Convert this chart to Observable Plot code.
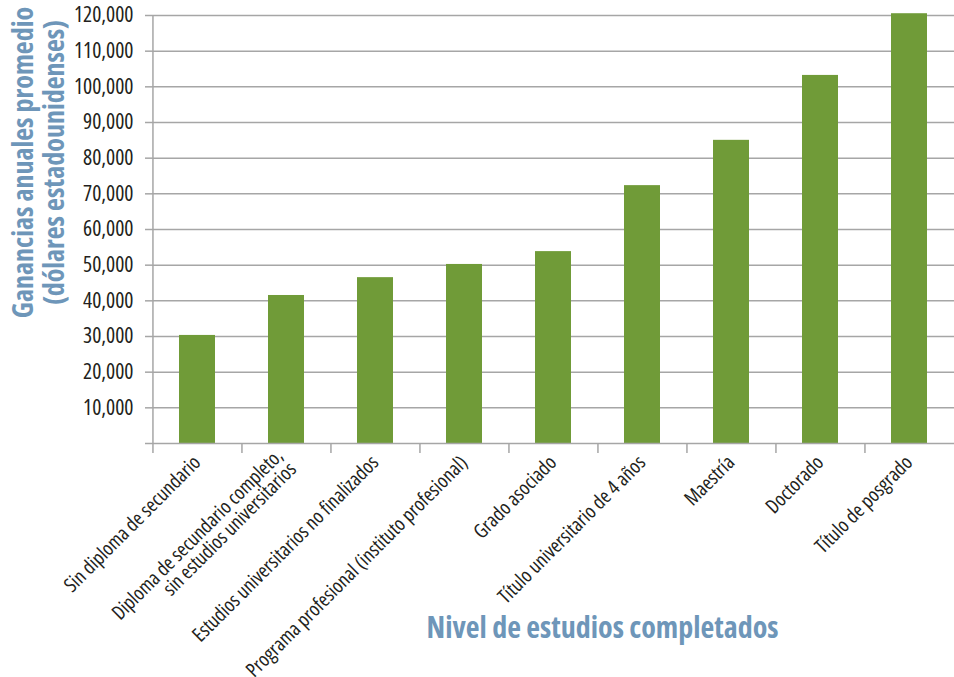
<!DOCTYPE html>
<html>
<head>
<meta charset="utf-8">
<script src="https://cdn.jsdelivr.net/npm/d3@7"></script>
<script src="https://cdn.jsdelivr.net/npm/@observablehq/plot@0.6"></script>
<style>
  html, body { margin: 0; padding: 0; background: #fff; }
  #chart { width: 954px; height: 677px; overflow: hidden; }
  #chart svg text { font-stretch: 75%; }
</style>
</head>
<body>
<div id="chart"></div>
<script>
// ---- data ----
const categories = [
  "Sin diploma de secundario",
  "Diploma de secundario completo,\nsin estudios universitarios",
  "Estudios universitarios no finalizados",
  "Programa profesional (instituto profesional)",
  "Grado asociado",
  "Título universitario de 4 años",
  "Maestría",
  "Doctorado",
  "Título de posgrado"
];
const earnings = [30300, 41500, 46500, 50200, 53800, 72300, 85000, 103200, 120500];
const yTicks = [0, 10000, 20000, 30000, 40000, 50000, 60000, 70000, 80000, 90000, 100000, 110000, 120000];
const yTitle = "Ganancias anuales promedio\n(dólares estadounidenses)";
const xTitle = "Nivel de estudios completados";

// ---- layout / style ----
const W = 954, H = 677;
const mL = 152, mR = 0, mT = 15, mB = 234;
const step = (W - mL - mR) / categories.length;
const FONT = '"Open Sans", "Liberation Sans", sans-serif';
const GREEN = "#709b38", BLUE = "#6e96b9", GRID = "#a6a6a6", INK = "#231f20";

const data = categories.map((c, i) => ({cat: c, value: earnings[i]}));

const chart = Plot.plot({
  width: W, height: H,
  marginLeft: mL, marginRight: mR, marginTop: mT, marginBottom: mB,
  style: {fontFamily: FONT, fontStretch: "75%", color: INK, background: "#fff", fontSize: "21px"},
  x: {domain: categories, paddingInner: 0.6, paddingOuter: 0.3, axis: null},
  y: {domain: [0, 120000], axis: null},
  marks: [
    Plot.gridY({ticks: yTicks.slice(1), stroke: GRID, strokeOpacity: 1, strokeWidth: 1.5}),
    Plot.barY(data, {x: "cat", y: "value", fill: GREEN}),
    Plot.ruleY([0], {stroke: GRID, strokeWidth: 1.5}),
    Plot.ruleX([categories[0]], {dx: -step / 2, stroke: GRID, strokeWidth: 1.5}),
    Plot.axisY({ticks: yTicks, tickSize: 7, tickPadding: 12, stroke: GRID, strokeWidth: 1.5,
      fontSize: 21.5, fill: INK, label: null,
      tickFormat: d => d === 0 ? "" : d3.format(",")(d)}),
    Plot.axisX({tickSize: 10, dx: -step / 2, stroke: GRID, strokeWidth: 1.5, fill: "none", label: null}),
    Plot.axisX({tickSize: 0, tickPadding: 16, tickRotate: -45, fontSize: 20, fill: INK, label: null,
      lineHeight: 0.95, tickFormat: d => d}),
    Plot.text([yTitle], {text: d => d, frameAnchor: "left", rotate: -90, dx: -114, dy: -67,
      fontSize: 28, fontWeight: "bold", fill: BLUE, lineHeight: 1.12, textAnchor: "middle", lineAnchor: "middle"}),
    Plot.text([xTitle], {text: d => d, frameAnchor: "bottom", dx: 49, dy: 185,
      fontSize: 30, fontWeight: "bold", fill: BLUE, textAnchor: "middle", lineAnchor: "middle"})
  ]
});
document.getElementById("chart").appendChild(chart);
</script>
</body>
</html>
